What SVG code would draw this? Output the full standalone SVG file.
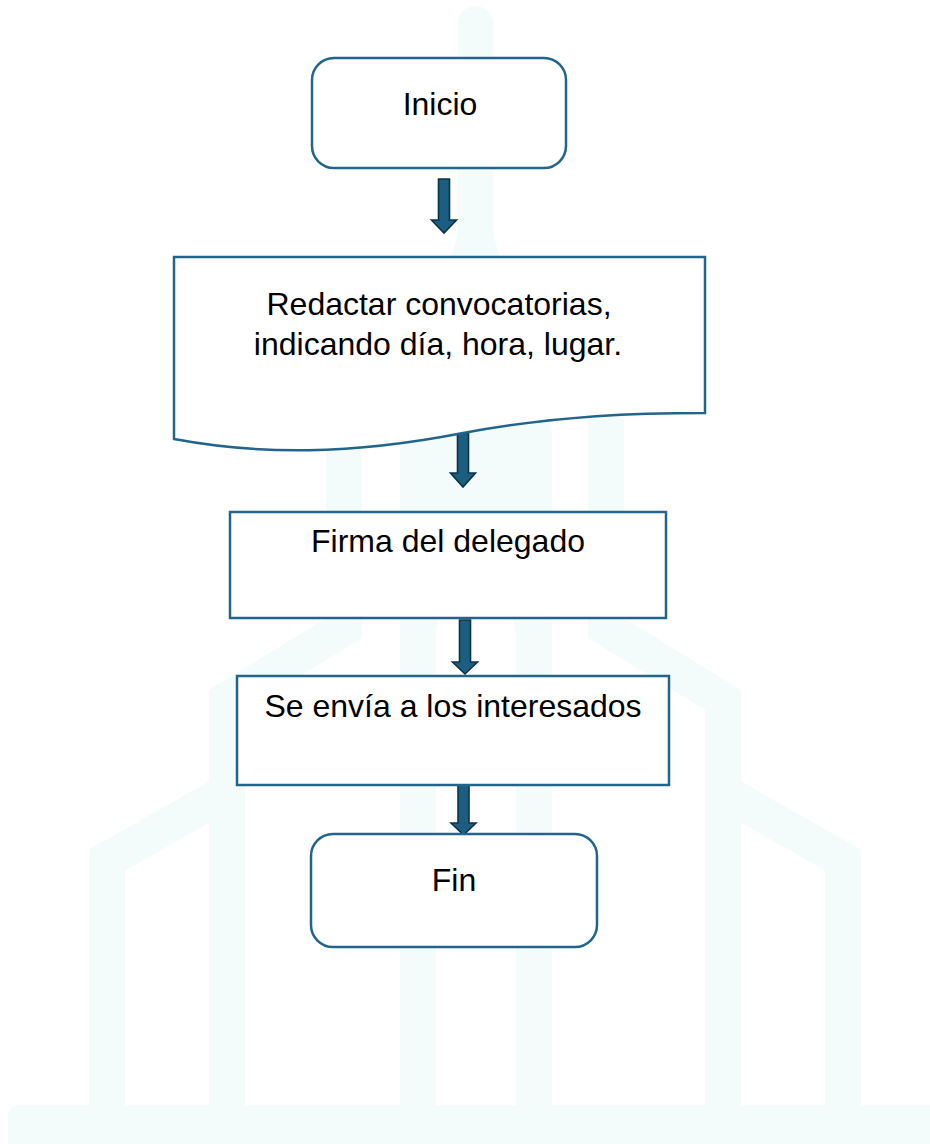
<svg xmlns="http://www.w3.org/2000/svg" width="930" height="1144" viewBox="0 0 930 1144">
  <style>
    .wm { fill: none; stroke: #f4fcfb; stroke-width: 36; stroke-linejoin: miter; }
    .wmf { fill: #f4fcfb; stroke: none; }
    .box { fill: #ffffff; stroke: #21658a; stroke-width: 2.5; }
    .lbl { font-family: "Liberation Sans", Arial, sans-serif; font-size: 32px; fill: #000000; text-anchor: middle; }
    .arrow { fill: #1b5e81; stroke: #0d3348; stroke-width: 1.6; stroke-linejoin: miter; }
  </style>
  <rect x="0" y="0" width="930" height="1144" fill="#ffffff"/>

  <g id="watermark">
    <line class="wm" x1="475.5" y1="24" x2="475.5" y2="240" stroke-linecap="round"/>
    <path class="wmf" d="M458,230 L493,230 C500,280 552,330 552,440 L552,1110 L516,1110 L516,640 C516,610 500,595 476,595 C452,595 436,610 436,640 L436,1110 L400,1110 L400,440 C400,330 451,280 458,230 Z"/>
    <path class="wm" d="M344,300 L344,628 L227,700 L227,1110"/>
    <path class="wm" d="M606,300 L606,628 L723,700 L723,1110"/>
    <path class="wm" d="M227,792 L107,860 L107,1110"/>
    <path class="wm" d="M723,792 L843,860 L843,1110"/>
    <rect class="wmf" x="8" y="1105" width="940" height="50" rx="12"/>
  </g>

  <g id="connectors">
    <path class="arrow" d="M438.5,179 H449.5 V220 H456.5 L444,233 L431.5,220 H438.5 Z"/>
    <path class="arrow" d="M457.5,433 H468.5 V473 H475.5 L463,487 L450.5,473 H457.5 Z"/>
    <path class="arrow" d="M459.5,620 H470.5 V662 H477.5 L465,674 L452.5,662 H459.5 Z"/>
    <path class="arrow" d="M458,782 H469 V823 H476 L463.5,835 L451,823 H458 Z"/>
  </g>

  <g id="inicio">
    <rect class="box" x="312" y="58" width="254" height="110" rx="22"/>
    <text class="lbl" x="440" y="115" font-size="31">Inicio</text>
  </g>

  <g id="redactar">
    <path class="box" d="M174,257 H705 V413 C640,413 560,415 463,433 C350,455 260,455 174,439 Z"/>
    <text class="lbl" x="439" y="315">Redactar convocatorias,</text>
    <text class="lbl" x="438" y="355">indicando día, hora, lugar.</text>
  </g>

  <g id="firma">
    <rect class="box" x="230" y="512" width="436" height="106"/>
    <text class="lbl" x="448" y="552">Firma del delegado</text>
  </g>

  <g id="envia">
    <rect class="box" x="237" y="676" width="432" height="109"/>
    <text class="lbl" x="453" y="717">Se envía a los interesados</text>
  </g>

  <g id="fin">
    <rect class="box" x="311" y="834" width="286" height="113" rx="22"/>
    <text class="lbl" x="454" y="891" font-size="31">Fin</text>
  </g>
</svg>
